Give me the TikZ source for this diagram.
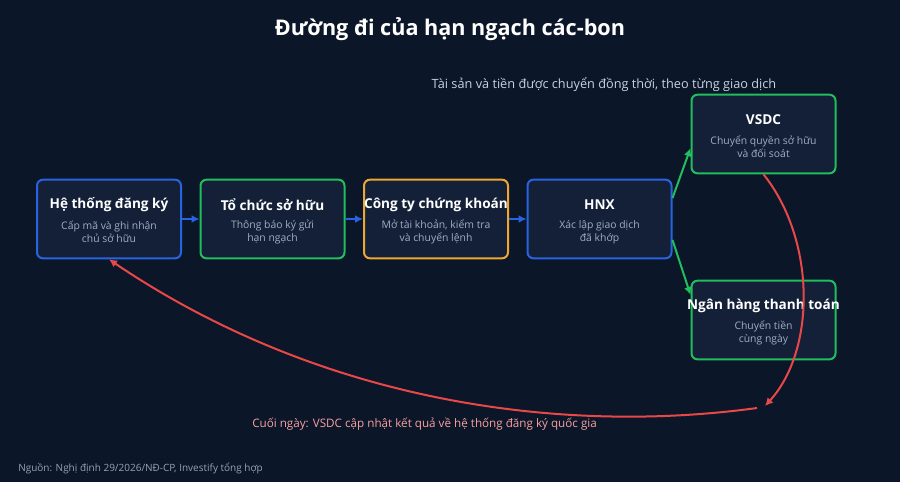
\documentclass[tikz,border=0pt]{standalone}
\usepackage{fontspec}
\setmainfont{Open Sans}
\usepackage{tikz}
\usetikzlibrary{positioning,arrows.meta}

\definecolor{bgcol}{RGB}{11,22,40}
\definecolor{boxfill}{RGB}{19,32,56}
\definecolor{boxblue}{RGB}{40,100,225}
\definecolor{boxgreen}{RGB}{34,190,94}
\definecolor{boxamber}{RGB}{238,168,48}
\definecolor{flowred}{RGB}{232,72,72}
\definecolor{subgray}{RGB}{160,174,194}
\definecolor{notegray}{RGB}{200,210,224}
\definecolor{notered}{RGB}{248,160,160}
\definecolor{srcgray}{RGB}{150,162,182}

\begin{document}
\begin{tikzpicture}[x=0.75pt,y=0.75pt,yscale=-1,xscale=1,
  stagebox/.style={draw, line width=1.5pt, rounded corners=4.5pt, fill=boxfill,
    minimum width=108pt, minimum height=59pt, inner sep=0pt},
  stagehead/.style={inner sep=0pt, text=white, font=\bfseries\fontsize{10.2}{13}\selectfont},
  stagesub/.style={align=center, inner sep=0pt, text=subgray, font=\fontsize{7.8}{9.75}\selectfont},
  flow/.style={line width=1.5pt, -{Latex[length=6pt,width=6pt]}}]
        %Background
        \fill [bgcol] (0,0) rectangle (900,482) ;

        % Title
        \node [inner sep=0pt, text=white, font=\bfseries\fontsize{16.2}{19}\selectfont] (title) at (450,29) {Đường đi của hạn ngạch các-bon};
        % Note above
        \node [inner sep=0pt, text=notegray, font=\fontsize{9.55}{11}\selectfont] (simnote) at (604,84) {Tài sản và tiền được chuyển đồng thời, theo từng giao dịch};

        %Shape: Rectangle (registry)
        \node [stagebox, draw=boxblue] (reg) at (109,219) {};
        \node [stagehead] (reghead) at (109,205) {Hệ thống đăng ký};
        \node [stagesub] (regsub) at (109,232) {Cấp mã và ghi nhận\\chủ sở hữu};
        %Shape: Rectangle (owner)
        \node [stagebox, draw=boxgreen] (own) at (272.5,219) {};
        \node [stagehead] (ownhead) at (272.5,205) {Tổ chức sở hữu};
        \node [stagesub] (ownsub) at (272.5,232) {Thông báo ký gửi\\hạn ngạch};
        %Shape: Rectangle (broker)
        \node [stagebox, draw=boxamber] (brk) at (436,219) {};
        \node [stagehead] (brkhead) at (436,205) {Công ty chứng khoán};
        \node [stagesub] (brksub) at (436,232) {Mở tài khoản, kiểm tra\\và chuyển lệnh};
        %Shape: Rectangle (exchange)
        \node [stagebox, draw=boxblue] (hnx) at (599.5,219) {};
        \node [stagehead] (hnxhead) at (599.5,205) {HNX};
        \node [stagesub] (hnxsub) at (599.5,232) {Xác lập giao dịch\\đã khớp};
        %Shape: Rectangle (depository)
        \node [stagebox, draw=boxgreen] (vsdc) at (763.5,134) {};
        \node [stagehead] (vsdchead) at (763.5,120) {VSDC};
        \node [stagesub] (vsdcsub) at (763.5,147) {Chuyển quyền sở hữu\\và đối soát};
        %Shape: Rectangle (bank)
        \node [stagebox, draw=boxgreen] (bank) at (763.5,320) {};
        \node [stagehead] (bankhead) at (763.5,306) {Ngân hàng thanh toán};
        \node [stagesub] (banksub) at (763.5,333) {Chuyển tiền\\cùng ngày};

        %Straight Lines (main flow)
        \draw [flow, boxblue] (reg) -- (own) ;
        \draw [flow, boxblue] (own) -- (brk) ;
        \draw [flow, boxblue] (brk) -- (hnx) ;
        \draw [flow, boxgreen] (hnx.16) -- (vsdc.191) ;
        \draw [flow, boxgreen] (hnx.-16) -- (bank.161) ;

        %Curve Lines (end of day)
        \coordinate (eodin) at (765,406) ;
        \coordinate (eodout) at (757,408) ;
        \draw [flow, flowred] (vsdc.south) .. controls (816,240) and (816,350) .. (eodin) ;
        \draw [flow, flowred] (eodout) .. controls (560,435) and (320,402) .. (reg.south) ;

        % Text Node
        \node [anchor=west, inner sep=0pt, text=notered, font=\fontsize{8.75}{11}\selectfont] (eodnote) at (252,424) {Cuối ngày: VSDC cập nhật kết quả về hệ thống đăng ký quốc gia};
        % Text Node
        \node [anchor=west, inner sep=0pt, text=srcgray, font=\fontsize{7.5}{9}\selectfont] (source) at (18,468) {Nguồn: Nghị định 29/2026/NĐ-CP, Investify tổng hợp};
\end{tikzpicture}
\end{document}
